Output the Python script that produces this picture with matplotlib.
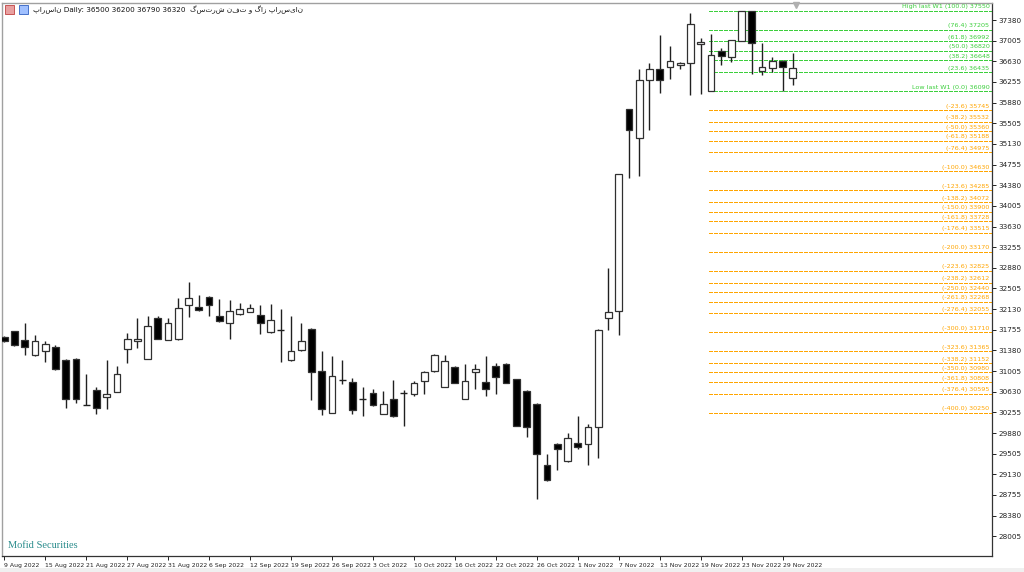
import matplotlib
matplotlib.use("Agg")
import matplotlib.pyplot as plt
from matplotlib.patches import Rectangle

# ---------------- data ----------------
opens = [31625, 31729, 31578, 31293, 31365, 31451, 31208, 31233, 30397, 30657,
         30535, 30633, 31402, 31560, 31233, 31960, 31578, 31584, 32201, 32170,
         32352, 32001, 31887, 32038, 32079, 32019, 31716, 31760, 31202, 31383,
         31778, 31002, 30252, 30851, 30802, 30493, 30608, 30234, 30493, 30608,
         30584, 30826, 31007, 30724, 31087, 30506, 30989, 30802, 31093, 31142,
         30857, 30644, 30415, 29294, 29681, 29367, 29694, 29688, 29990, 31960,
         32092, 35757, 35241, 36290, 36495, 36531, 36556, 36604, 36944, 36090,
         36816, 36702, 37004, 37550, 36459, 36513, 36635, 36320]
highs = [31640, 31740, 31880, 31656, 31547, 31470, 31220, 31245, 30960, 30717,
         31202, 31093, 31698, 31960, 32001, 32001, 31960, 32341, 32625, 32383,
         32365, 32305, 32292, 32243, 32219, 32201, 32219, 32141, 32001, 31887,
         31790, 31371, 31274, 31202, 30887, 30717, 30687, 30644, 30851, 30658,
         30826, 31000, 31315, 31293, 31095, 31129, 31129, 31274, 31160, 31160,
         30870, 30655, 30425, 29494, 29690, 29888, 30190, 30039, 31770, 32868,
         34590, 35770, 36484, 36604, 37107, 36907, 36610, 37501, 37047, 37125,
         36866, 37025, 37550, 37550, 36968, 36702, 36645, 36790]
lows = [31530, 31460, 31293, 31280, 31171, 31030, 30342, 30426, 30390, 30234,
        30324, 30620, 31153, 31425, 31220, 31590, 31570, 31575, 31978, 32100,
        32001, 31898, 31596, 32030, 32070, 31687, 31705, 31171, 31190, 31375,
        30488, 30215, 30240, 30779, 30234, 30185, 30375, 30225, 30175, 30015,
        30548, 30584, 30989, 30715, 30790, 30495, 30688, 30548, 30584, 30790,
        30005, 29808, 28689, 29010, 29216, 29360, 29597, 29294, 29434, 31760,
        31656, 34503, 34545, 35381, 36048, 36302, 36484, 36017, 36030, 36090,
        36556, 36611, 36995, 36399, 36375, 36429, 36095, 36200]
closes = [31547, 31474, 31443, 31553, 31505, 31044, 30506, 30493, 30397, 30342,
          30589, 30947, 31589, 31596, 31820, 31596, 31887, 32159, 32341, 32111,
          32201, 31916, 32092, 32141, 32159, 31887, 31941, 31760, 31371, 31553,
          30989, 30312, 30911, 30851, 30293, 30493, 30384, 30402, 30185, 30608,
          30797, 30989, 31305, 31196, 30797, 30833, 31051, 30688, 30906, 30797,
          30015, 29990, 29506, 29021, 29585, 29797, 29621, 29990, 31760, 32080,
          34576, 35381, 36290, 36495, 36290, 36629, 36598, 37307, 36985, 36744,
          36726, 37016, 37550, 36968, 36520, 36635, 36531, 36500]

date_labels = ["9 Aug 2022", "15 Aug 2022", "21 Aug 2022", "27 Aug 2022", "31 Aug 2022",
               "6 Sep 2022", "12 Sep 2022", "19 Sep 2022", "26 Sep 2022", "3 Oct 2022",
               "10 Oct 2022", "16 Oct 2022", "22 Oct 2022", "26 Oct 2022", "1 Nov 2022",
               "7 Nov 2022", "13 Nov 2022", "19 Nov 2022", "23 Nov 2022", "29 Nov 2022"]
date_label_bars = list(range(0, 80, 4))

price_ticks = [37380, 37005, 36630, 36255, 35880, 35505, 35130, 34755, 34380, 34005,
               33630, 33255, 32880, 32505, 32130, 31755, 31380, 31005, 30630, 30255,
               29880, 29505, 29130, 28755, 28380, 28005]

fib_green_values = [37550, 37205, 36992, 36820, 36648, 36435, 36090]
fib_green_labels = ["High last W1 (100.0) 37550", "(76.4) 37205", "(61.8) 36992",
                    "(50.0) 36820", "(38.2) 36648", "(23.6) 36435", "Low last W1 (0.0) 36090"]
fib_orange_values = [35745, 35532, 35360, 35188, 34975, 34630, 34285, 34072, 33900, 33728,
                     33515, 33170, 32825, 32612, 32440, 32268, 32055, 31710, 31365, 31152,
                     30980, 30808, 30595, 30250]
fib_orange_labels = ["(-23.6) 35745", "(-38.2) 35532", "(-50.0) 35360", "(-61.8) 35188",
                     "(-76.4) 34975", "(-100.0) 34630", "(-123.6) 34285", "(-138.2) 34072",
                     "(-150.0) 33900", "(-161.8) 33728", "(-176.4) 33515", "(-200.0) 33170",
                     "(-223.6) 32825", "(-238.2) 32612", "(-250.0) 32440", "(-261.8) 32268",
                     "(-276.4) 32055", "(-300.0) 31710", "(-323.6) 31365", "(-338.2) 31152",
                     "(-350.0) 30980", "(-361.8) 30808", "(-376.4) 30595", "(-400.0) 30250"]
fib_start_bar = 69

title_text = "پارسان Daily: 36500 36200 36790 36320  گسترش نفت و گاز پارسیان"
brand_text = "Mofid Securities"

# ---------------- figure ----------------
W, H = 1024, 572
fig = plt.figure(figsize=(W / 100, H / 100), dpi=100)
fig.patch.set_facecolor("white")
ax = fig.add_axes([2 / W, 1 - 556 / H, 990 / W, 553 / H])
ax.set_facecolor("white")

n = len(opens)
body_w = 0.66
for i in range(n):
    o, h, l, c = opens[i], highs[i], lows[i], closes[i]
    ax.vlines(i, l, h, color="#202020", lw=1.0, zorder=2)
    if abs(c - o) < 1e-9:
        ax.hlines(o, i - body_w / 2, i + body_w / 2, color="#202020", lw=1.0, zorder=3)
    else:
        bull = c > o
        ax.bar(i, abs(c - o), bottom=min(o, c), width=body_w,
               facecolor="white" if bull else "black", edgecolor="#303030",
               linewidth=0.9, zorder=3)

x_left, x_right = -0.22, 96.45
ax.set_xlim(x_left, x_right)
ax.set_ylim(27647, 37689)

# Fibonacci levels
green = "#3ccf3c"
orange = "#ffa500"
for v, lab in zip(fib_green_values, fib_green_labels):
    ax.hlines(v, fib_start_bar - 0.15, x_right, colors=green, lw=0.72,
              linestyles=(0, (3, 2)), zorder=1, antialiased=False)
    ax.text(96.2, v + 25, lab, color=green, fontsize=4.6, ha="right", va="bottom", zorder=4)
for v, lab in zip(fib_orange_values, fib_orange_labels):
    ax.hlines(v, fib_start_bar - 0.15, x_right, colors=orange, lw=0.72,
              linestyles=(0, (3, 2)), zorder=1, antialiased=False)
    ax.text(96.2, v + 25, lab, color=orange, fontsize=4.6, ha="right", va="bottom", zorder=4)

# axes styling
ax.yaxis.tick_right()
ax.set_yticks(price_ticks)
ax.set_yticklabels([str(t) for t in price_ticks], fontsize=5.2)
ax.tick_params(axis="y", direction="out", length=3, width=0.7, pad=1.5, colors="#222222")
ax.set_xticks(date_label_bars)
ax.set_xticklabels(date_labels, fontsize=4.4, ha="left")
ax.tick_params(axis="x", direction="out", length=3, width=0.7, pad=2, colors="#222222")
for lbl in ax.get_xticklabels():
    lbl.set_horizontalalignment("left")

for side in ["left", "top"]:
    ax.spines[side].set_color("#a0a0a0")
    ax.spines[side].set_linewidth(1.0)
for side in ["right", "bottom"]:
    ax.spines[side].set_color("#333333")
    ax.spines[side].set_linewidth(0.9)

# chart shift marker
ax.plot([77.3], [37660], marker="v", color="#b0b0b0", markersize=4, zorder=5, clip_on=False)

# title with icons
fig.patches.append(Rectangle((5 / W, 1 - 14 / H), 9 / W, 9 / H, transform=fig.transFigure,
                             facecolor="#e8a0a0", edgecolor="#c04040", lw=0.6))
fig.patches.append(Rectangle((19 / W, 1 - 14 / H), 9 / W, 9 / H, transform=fig.transFigure,
                             facecolor="#a0c0ff", edgecolor="#3060c0", lw=0.6))
fig.text(33 / W, 1 - 9.5 / H, title_text, fontsize=5.2, ha="left", va="center",
         family=["DejaVu Sans"], color="#111111")

fig.text(8 / W, 1 - 545 / H, brand_text, fontsize=7.5, ha="left", va="center",
         family=["Liberation Serif", "DejaVu Serif"], color="#2a8c8c")

# bottom grey strip like window frame
fig.patches.append(Rectangle((0, 0), 1, 4 / H, transform=fig.transFigure,
                             facecolor="#f0f0f0", edgecolor="none"))

fig.savefig("out.png", dpi=100)
